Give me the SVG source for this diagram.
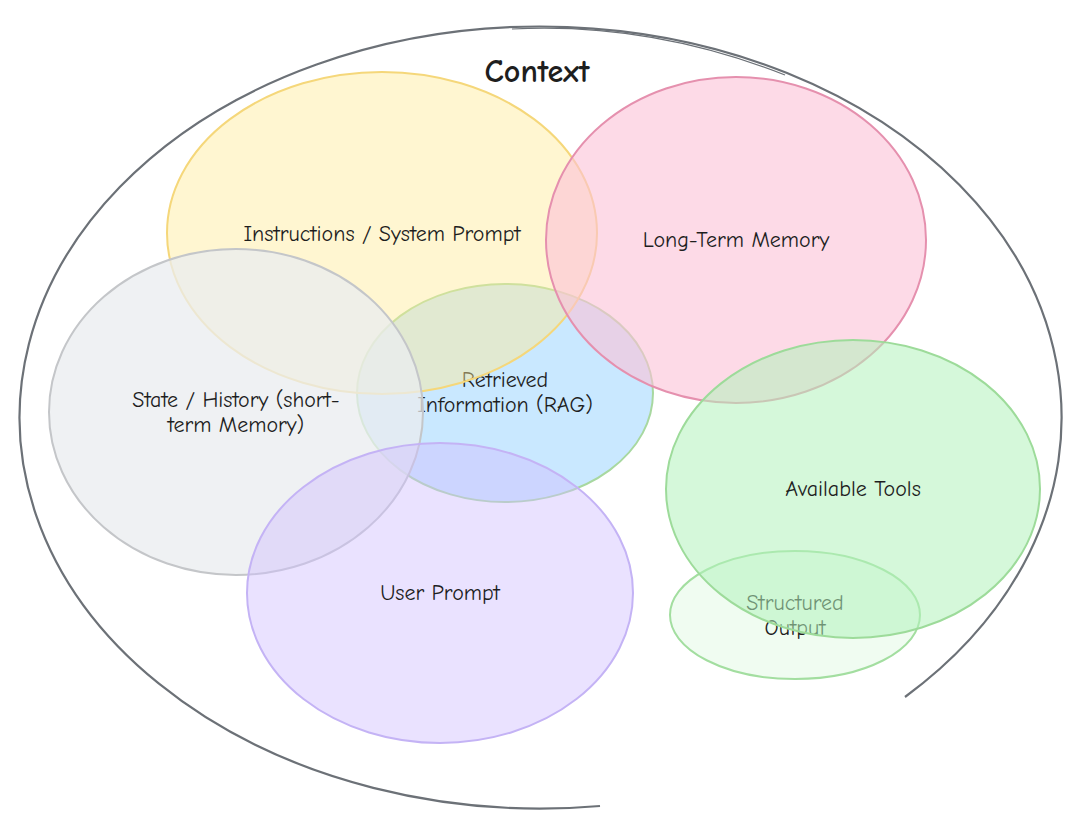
<svg xmlns="http://www.w3.org/2000/svg" width="1080" height="821" viewBox="0 0 1080 821">
<style>
text{font-family:"Comic Neue","Liberation Sans","DejaVu Sans",sans-serif;font-size:22px;fill:#1e1e1e;text-anchor:middle}
.e{stroke-width:2}
.title{font-size:32px;font-weight:bold}
</style>
<rect width="1080" height="821" fill="#ffffff"/>
<g id="context">
<path d="M905 697 A521 391 0 1 0 600 806" fill="none" stroke="#6c7177" stroke-width="2.2"/>
<path d="M512 29 Q650 22 785 75" fill="none" stroke="#6c7177" stroke-width="1.2"/>
<text class="title" x="537" y="82">Context</text>
</g>
<g id="rag">
<ellipse class="e" cx="505" cy="393" rx="148" ry="109" fill="#a5d8ff" fill-opacity="0.6" stroke="#a8d8a0"/>
<text x="505" y="387">Retrieved</text>
<text x="505" y="412">Information (RAG)</text>
</g>
<g id="instructions">
<ellipse class="e" cx="382" cy="233" rx="215" ry="161" fill="#ffec99" fill-opacity="0.45" stroke="#f5d77a"/>
<text x="382" y="241">Instructions / System Prompt</text>
</g>
<g id="long-term-memory">
<ellipse class="e" cx="736" cy="240" rx="190" ry="163" fill="#fcc2d7" fill-opacity="0.6" stroke="#e590ae"/>
<text x="736" y="247">Long-Term Memory</text>
</g>
<g id="state-history">
<ellipse class="e" cx="236" cy="412" rx="187" ry="163" fill="#e9ecef" fill-opacity="0.75" stroke="#c4c6c9"/>
<text x="236" y="407">State / History (short-</text>
<text x="236" y="432">term Memory)</text>
</g>
<g id="user-prompt">
<ellipse class="e" cx="440" cy="593" rx="193" ry="150" fill="#d0bfff" fill-opacity="0.45" stroke="#c4b3f5"/>
<text x="440" y="600">User Prompt</text>
</g>
<g id="structured-output">
<ellipse class="e" cx="795" cy="615" rx="125" ry="64" fill="#b2f2bb" fill-opacity="0.2" stroke="#a3dea0"/>
<text x="795" y="610">Structured</text>
<text x="795" y="635">Output</text>
</g>
<g id="available-tools">
<ellipse class="e" cx="853" cy="489" rx="187" ry="149" fill="#b2f2bb" fill-opacity="0.55" stroke="#9ddb9a"/>
<text x="853" y="496">Available Tools</text>
</g>
<g id="connectors"></g>
</svg>
